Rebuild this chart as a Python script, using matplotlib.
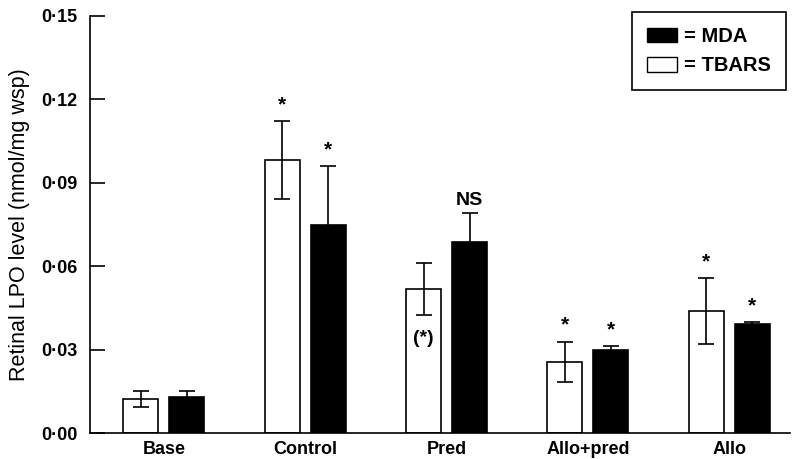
import matplotlib
matplotlib.use("Agg")
import matplotlib.pyplot as plt
from matplotlib.patches import Patch
import numpy as np

categories = ["Base", "Control", "Pred", "Allo+pred", "Allo"]
tbars = [0.0122, 0.0982, 0.0518, 0.0255, 0.0439]
tbars_err = [0.0030, 0.0140, 0.0092, 0.0073, 0.0118]
mda = [0.0130, 0.0748, 0.0687, 0.0299, 0.0392]
mda_err = [0.0021, 0.0212, 0.0104, 0.0014, 0.0007]
tbars_marks = ["", "*", "(*)", "*", "*"]
mda_marks = ["", "*", "NS", "*", "*"]
yticks = [0.0, 0.03, 0.06, 0.09, 0.12, 0.15]
ytick_labels = ["0·00", "0·03", "0·06", "0·09", "0·12", "0·15"]

plt.rcParams['font.family'] = ['Liberation Sans', 'DejaVu Sans']

fig = plt.figure(figsize=(7.92, 4.59), dpi=100)
ax = fig.add_axes([90/792, 26/459, 700/792, 417/459])

x = np.arange(len(categories))
w = 0.247
off = 0.163
ax.bar(x - off, tbars, w, color="white", edgecolor="black", linewidth=1.2, zorder=2)
ax.bar(x + off, mda, w, color="black", edgecolor="black", linewidth=1.2, zorder=2)
ax.errorbar(x - off, tbars, yerr=tbars_err, fmt="none", ecolor="black", elinewidth=1.2, capsize=6, capthick=1.2, zorder=3)
ax.errorbar(x + off, mda, yerr=mda_err, fmt="none", ecolor="black", elinewidth=1.2, capsize=6, capthick=1.2, zorder=3)

for i in range(len(categories)):
    m = tbars_marks[i]
    if m == "(*)":
        ax.text(x[i] - off, tbars[i] - tbars_err[i] - 0.0055, m, ha="center", va="top",
                fontsize=14, fontweight="bold", zorder=4)
    elif m:
        ax.text(x[i] - off, tbars[i] + tbars_err[i] + 0.0025, m, ha="center", va="bottom",
                fontsize=15, fontweight="bold", zorder=4)
    m = mda_marks[i]
    if m == "NS":
        ax.text(x[i] + off, mda[i] + mda_err[i] + 0.0015, m, ha="center", va="bottom",
                fontsize=14, fontweight="bold", zorder=4)
    elif m:
        ax.text(x[i] + off, mda[i] + mda_err[i] + 0.0025, m, ha="center", va="bottom",
                fontsize=15, fontweight="bold", zorder=4)

ax.set_xlim(-0.523, 4.43)
ax.set_ylim(0, 0.15)
ax.spines["top"].set_visible(False)
ax.spines["right"].set_visible(False)
ax.spines["left"].set_linewidth(1.2)
ax.spines["bottom"].set_linewidth(1.2)
ax.set_yticks(yticks)
ax.set_yticklabels(ytick_labels, fontsize=13, fontweight="bold")
ax.tick_params(axis="y", direction="in", length=11, width=1.2, pad=9)
ax.set_xticks(x)
ax.set_xticklabels(categories, fontsize=13, fontweight="bold")
ax.tick_params(axis="x", length=0, pad=6)
ax.set_ylabel("Retinal LPO level (nmol/mg wsp)", fontsize=15.5, labelpad=8)

handles = [Patch(facecolor="black", edgecolor="black"),
           Patch(facecolor="white", edgecolor="black")]
leg = fig.legend(handles, ["= MDA", "= TBARS"], loc="upper right",
                 bbox_to_anchor=(786/792, 1 - 12/459), fancybox=False,
                 edgecolor="black", framealpha=1, borderpad=0.75,
                 handlelength=1.5, handleheight=0.75, handletextpad=0.35,
                 labelspacing=0.5, borderaxespad=0,
                 prop={"size": 14.5, "weight": "bold"})
leg.get_frame().set_linewidth(1.2)

fig.savefig("out.png", dpi=100)
